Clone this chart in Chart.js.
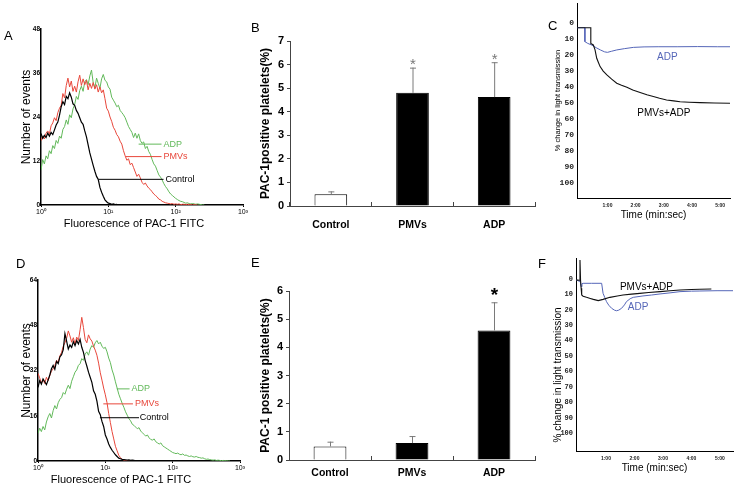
<!DOCTYPE html>
<html><head><meta charset="utf-8">
<script src="https://cdn.jsdelivr.net/npm/chart.js@4/dist/chart.umd.min.js"></script>
<style>
html,body{margin:0;padding:0;background:#fff;}
#wrap{position:relative;width:741px;height:492px;overflow:hidden;background:#fff;font-family:Arial,"Liberation Sans",sans-serif;}
canvas{position:absolute;}
.lt{position:absolute;font-size:13px;line-height:13px;color:#000;}
</style></head><body>
<div id="wrap">
<canvas id="cA" width="250" height="240" style="left:0;top:0"></canvas>
<canvas id="cB" width="290" height="240" style="left:250px;top:0"></canvas>
<canvas id="cC" width="201" height="240" style="left:540px;top:0"></canvas>
<canvas id="cD" width="250" height="252" style="left:0;top:240px"></canvas>
<canvas id="cE" width="290" height="252" style="left:250px;top:240px"></canvas>
<canvas id="cF" width="201" height="252" style="left:540px;top:240px"></canvas>
<div class="lt" style="left:4px;top:29px">A</div>
<div class="lt" style="left:251px;top:21px">B</div>
<div class="lt" style="left:548px;top:19px">C</div>
<div class="lt" style="left:16px;top:257px">D</div>
<div class="lt" style="left:251px;top:256px">E</div>
<div class="lt" style="left:538px;top:257px">F</div>
</div>
<script>
// ---------- data ----------
const decades = [0,0.025,0.05,0.075,0.1,0.125,0.15,0.175,0.2,0.225,0.25,0.275,0.3,0.325,0.35,0.375,0.4,0.425,0.45,0.475,0.5,0.525,0.55,0.575,0.6,0.625,0.65,0.675,0.7,0.725,0.75,0.775,0.8,0.825,0.85,0.875,0.9,0.925,0.95,0.975,1,1.025,1.05,1.075,1.1,1.125,1.15,1.175,1.2,1.225,1.25,1.275,1.3,1.325,1.35,1.375,1.4,1.425,1.45,1.475,1.5,1.525,1.55,1.575,1.6,1.625,1.65,1.675,1.7,1.725,1.75,1.775,1.8,1.825,1.85,1.875,1.9,1.925,1.95,1.975,2,2.025,2.05,2.075,2.1,2.125,2.15,2.175,2.2,2.225,2.25,2.275,2.3,2.325,2.35,2.375,2.4,2.425,2.45,2.475,2.5,2.525,2.55,2.575,2.6,2.625,2.65,2.675,2.7,2.725,2.75,2.775,2.8,2.825,2.85,2.875,2.9,2.925,2.95,2.975,3];
const decadeTicks = [0,1,2,3];
const decadeLabels = ['10\u2070','10\u00B9','10\u00B2','10\u00B3'];

const histA_control = [19.5,18.2,19.0,18.4,19.6,18.8,19.8,19.2,20.5,21.8,22.6,24.5,26.8,28.2,27.4,29.6,29.0,30.6,29.4,27.6,27.2,25.8,25.0,23.8,22.6,22.0,20.2,18.6,16.4,14.2,12.5,10.8,9.2,7.8,7.0,4.8,3.5,2.4,1.4,0.9,0.5,0.4,0.2,0.3,0.1,0.2,0,0.1,0,0];
const histA_pmvs = [17.5,18.8,18.0,19.6,20.2,19.4,21.6,22.4,23.8,23.0,25.2,26.4,27.2,30.4,29.2,32.6,34.6,32.2,33.8,31.0,32.4,30.8,33.6,35.4,32.6,34.4,32.8,34.0,31.4,33.2,31.8,33.4,31.6,32.8,30.8,32.2,30.6,31.4,29.0,26.4,25.6,24.0,22.8,21.2,20.4,19.2,18.6,17.4,16.6,14.8,13.4,12.2,12.6,11.0,11.4,10.2,9.0,7.8,8.4,7.4,6.2,5.6,6.0,5.2,4.6,4.2,3.6,3.0,2.6,2.2,1.6,1.4,1.0,0.8,0.6,0.5,0.4,0.3,0.4,0.2,0.3,0.2,0.3,0.1,0.2,0.2,0.1,0.2,0.1,0.1,0,0.1,0,0];
const histA_adp = [9.5,12.4,11.2,13.4,12.6,14.8,14.0,16.2,15.4,17.6,16.8,18.8,18.2,20.6,21.4,23.2,22.0,24.6,23.8,26.2,27.4,29.6,28.8,31.2,32.4,31.0,33.6,34.2,32.8,35.2,36.8,33.4,32.0,34.6,33.2,31.8,34.4,35.6,34.0,33.6,32.2,31.6,29.4,28.6,27.8,26.8,27.2,25.8,25.2,24.6,23.8,22.6,21.4,20.6,19.8,18.4,19.6,18.2,19.4,17.6,16.8,17.2,15.4,16.0,14.6,13.8,12.4,11.2,10.6,9.4,8.2,7.6,6.8,5.8,5.0,4.4,3.6,3.0,2.6,2.2,1.8,1.5,1.2,1.0,0.9,0.7,0.5,0.6,0.4,0.3,0.4,0.3,0.2,0.3,0.2,0.1,0,0];

const histD_control = [26.0,28.4,27.2,29.0,28.0,27.0,28.6,30.4,32.6,33.8,32.4,35.2,34.4,36.8,37.6,39.4,45.0,42.4,39.6,41.0,40.2,42.2,40.8,42.6,41.4,43.0,40.2,38.4,35.6,33.6,31.4,29.6,27.8,24.8,23.6,21.2,17.6,16.4,14.0,12.2,9.2,7.8,6.0,4.8,3.8,3.0,2.2,1.6,1.0,0.8,0.6,0.5,0.4,0.3,0.4,0.2,0.3,0.2,0.1,0,0.1,0,0];
const histD_pmvs = [31.0,29.4,27.6,28.8,27.4,29.6,28.4,30.2,31.8,32.6,33.8,35.6,35.0,37.2,38.4,40.6,41.8,43.4,46.0,44.2,42.0,43.6,41.4,43.8,42.6,46.4,50.8,47.2,43.0,41.8,44.6,43.2,42.4,40.6,39.2,37.4,34.6,31.2,28.6,25.8,23.4,20.6,16.8,13.6,10.4,7.8,5.2,3.6,2.0,1.2,0.6,0.3,0.2,0.1,0,0];
const histD_adp = [9.8,11.6,10.4,12.2,11.0,13.8,15.6,16.8,15.2,17.8,19.6,18.4,20.6,21.8,22.4,24.2,23.6,25.4,26.8,25.6,28.2,29.8,31.4,32.2,33.8,34.4,36.2,35.6,37.8,38.6,37.4,39.6,40.8,40.2,41.8,42.6,41.4,42.0,40.6,39.8,40.2,38.6,36.4,34.8,32.2,30.4,28.0,25.8,23.6,22.0,20.4,19.0,17.4,16.2,15.0,14.2,13.0,12.6,12.0,11.4,11.8,10.6,10.0,9.4,8.8,9.2,8.2,7.6,7.4,7.8,6.8,6.4,6.0,6.4,5.4,5.0,4.6,4.2,3.8,3.4,3.0,2.8,2.6,2.8,2.4,2.2,2.5,2.0,2.1,1.8,1.6,1.8,1.5,1.4,1.6,1.3,1.2,1.0,1.1,0.8,0.6,0.7,0.5,0.4,0.3,0.4,0.2,0.3,0.2,0.1,0.2,0.1,0.1,0,0];

const barCats = ['Control','PMVs','ADP'];
const barB_values = [0.5, 4.8, 4.62];
const barB_errors = [0.12, 1.07, 1.48];
const barB_stars = [false, true, true];
const barE_values = [0.48, 0.6, 4.6];
const barE_errors = [0.17, 0.25, 1.0];
const barE_stars = [false, false, true];

const aggTicks = [0,10,20,30,40,50,60,70,80,90,100];
const timeTicks = [1,2,3,4,5];
const timeLabels = ['1:00','2:00','3:00','4:00','5:00'];

const aggC_adp_t = [-0.08,0.2,0.2,0.3,0.45,0.6,0.75,0.9,1.0,1.15,1.33,1.6,1.92,2.3,2.8,3.5,4.2,4.9,5.35];
const aggC_adp_v = [2.9,2.9,11.6,12.7,13.8,15.4,16.8,18.0,18.3,17.6,16.8,16.0,15.2,14.9,14.8,14.8,14.7,14.8,14.8];
const aggC_pmv_t = [-0.08,0.41,0.41,0.5,0.56,0.62,0.68,0.74,0.85,0.98,1.15,1.33,1.5,1.69,1.9,2.16,2.4,2.63,2.85,3.1,3.35,3.58,3.9,4.29,4.8,5.35];
const aggC_pmv_v = [2.9,2.9,12.7,13.7,16.8,22.0,24.6,27.2,30.0,32.4,35.0,37.6,38.9,40.1,41.8,43.4,44.8,45.9,47.0,48.0,48.6,49.1,49.4,49.7,49.9,50.1];

const aggF_pmv_t = [-0.05,0.06,0.09,0.11,0.13,0.15,0.2,0.32,0.45,0.56,0.73,0.9,1.14,1.4,1.6,1.9,2.19,2.5,2.9,3.25,3.6,4.0,4.3,4.7];
const aggF_pmv_v = [0.6,0.8,-12.3,1.0,6.0,10.4,11.2,11.9,12.6,13.2,14.0,13.2,11.9,11.0,10.4,9.8,9.3,8.8,8.2,7.6,7.1,6.8,6.7,6.5];
const aggF_adp_t = [-0.05,0.1,0.13,0.16,0.2,0.5,0.85,0.9,0.96,1.02,1.1,1.2,1.3,1.37,1.45,1.55,1.65,1.72,1.85,1.96,2.3,2.6,2.9,3.25,3.6,4.0,4.3,4.9,5.47];
const aggF_adp_v = [0.6,1.7,5.0,3.0,2.8,2.8,2.8,9.3,12.0,14.7,17.0,19.0,20.2,20.6,20.2,19.0,16.8,14.7,12.8,11.9,11.0,10.4,9.7,9.0,8.2,7.9,7.8,7.6,7.6];

// ---------- helpers ----------
Chart.defaults.font.family = 'Arial, "Liberation Sans", sans-serif';
Chart.defaults.color = '#000';
const GREEN = '#62b95a', RED = '#e8473b', BLUE = '#5566b8';

function histPts(ys){ return ys.map((v,i)=>({x:decades[i], y:v})); }
function tPts(ts, vs){ return ts.map((t,i)=>({x:t, y:vs[i]})); }
function zeroPad(s){ s.paddingTop=0; s.paddingBottom=0; s.paddingLeft=0; s.paddingRight=0; }

function leaderPlugin(items){
  return { id:'leaders', afterDatasetsDraw(chart){
    const {ctx, scales:{x,y}} = chart;
    ctx.save();
    items.forEach(it=>{
      const yy = y.getPixelForValue(it.y);
      if (it.x0 !== undefined){
        ctx.strokeStyle = it.color; ctx.lineWidth = 1;
        ctx.beginPath(); ctx.moveTo(x.getPixelForValue(it.x0), yy); ctx.lineTo(x.getPixelForValue(it.x1), yy); ctx.stroke();
      }
      ctx.fillStyle = it.color; ctx.font = it.font; ctx.textAlign='left'; ctx.textBaseline='middle';
      ctx.fillText(it.text, x.getPixelForValue(it.tx), yy);
    });
    ctx.restore();
  }};
}

function titlesPlugin(list){
  return { id:'freeTitles', afterDraw(chart){
    const ctx = chart.ctx;
    (list||[]).forEach(t=>{
      ctx.save();
      ctx.translate(t.x, t.y); if (t.rot) ctx.rotate(-Math.PI/2);
      ctx.fillStyle = '#000'; ctx.font = t.font; ctx.textAlign='center'; ctx.textBaseline='middle';
      ctx.fillText(t.text, 0, 0);
      ctx.restore();
    });
  }};
}

function errPlugin(vals, errs, stars, st){
  return { id:'errbars', afterDatasetsDraw(chart){
    const {ctx, scales:{x,y}} = chart;
    ctx.save();
    vals.forEach((v,i)=>{
      const px = x.getPixelForValue(i);
      const y0 = y.getPixelForValue(v), y1 = y.getPixelForValue(v+errs[i]);
      ctx.strokeStyle = '#7a7a7a'; ctx.lineWidth = 1;
      ctx.beginPath(); ctx.moveTo(px+0.5, y0); ctx.lineTo(px+0.5, y1);
      ctx.moveTo(px-2.5, y1+0.5); ctx.lineTo(px+3.5, y1+0.5); ctx.stroke();
      if (stars[i]){
        ctx.fillStyle = st.color; ctx.font = st.font; ctx.textAlign='center'; ctx.textBaseline='alphabetic';
        ctx.fillText('*', px+0.5, y1 - st.gap + st.size*0.56);
      }
    });
    ctx.restore();
  }};
}

function histChart(id, W, H, area, ymax, ystep, series, leaders, titlePadY, xTitle){
  const yTicks = []; for (let v=0; v<=ymax; v+=ystep) yTicks.push(v);
  return new Chart(document.getElementById(id), {
    type:'line',
    data:{ datasets:[
      {data:histPts(series[0]), borderColor:'#000', borderWidth:1.2},
      {data:histPts(series[1]), borderColor:RED, borderWidth:1},
      {data:histPts(series[2]), borderColor:GREEN, borderWidth:1}
    ]},
    options:{
      responsive:false, animation:false, events:[],
      layout:{padding:{left:0, top:area.top, right:W-area.right, bottom:0}},
      plugins:{legend:{display:false}, tooltip:{enabled:false}},
      elements:{point:{radius:0}, line:{tension:0}},
      scales:{
        x:{type:'linear', min:0, max:3,
          afterBuildTicks:s=>{ s.ticks = decadeTicks.map(v=>({value:v})); },
          afterFit:s=>{ s.height = H-area.bottom; zeroPad(s); },
          ticks:{callback:(v,i)=>decadeLabels[i], font:{size:7}, color:'#000', padding:1, maxRotation:0, autoSkip:false},
          grid:{drawOnChartArea:false, tickLength:2, color:'#000'},
          border:{color:'#000', width:1.5}
        },
        y:{min:0, max:ymax,
          afterBuildTicks:s=>{ s.ticks = yTicks.map(v=>({value:v})); },
          afterFit:s=>{ s.width = area.left; zeroPad(s); },
          ticks:{font:{size:6.5, weight:'bold'}, color:'#000', padding:0},
          grid:{drawOnChartArea:false, tickLength:1, color:'#000'},
          border:{color:'#000', width:1.5},
          title:{display:true, text:'Number of events', font:{size:12}, color:'#000', padding:{top:titlePadY,bottom:0}}
        }
      }
    },
    plugins:[leaderPlugin(leaders), titlesPlugin([xTitle])]
  });
}

function barChart(id, W, H, area, ymax, vals, errs, stars, starStyle, yTitle, labPad){
  const yTicks = []; for (let v=0; v<=ymax; v++) yTicks.push(v);
  return new Chart(document.getElementById(id), {
    type:'bar',
    data:{ labels:barCats, datasets:[{data:vals, backgroundColor:['#fff','#000','#000'], borderColor:'#000', borderWidth:1, borderSkipped:'bottom', barPercentage:0.8, categoryPercentage:0.5}]},
    options:{
      responsive:false, animation:false, events:[],
      layout:{padding:{left:0, top:area.top, right:W-area.right, bottom:0}},
      plugins:{legend:{display:false}, tooltip:{enabled:false}},
      scales:{
        x:{offset:true,
          afterFit:s=>{ s.height = H-area.bottom; zeroPad(s); },
          ticks:{font:{size:10.5, weight:'bold'}, color:'#000', padding:labPad, maxRotation:0},
          grid:{offset:true, drawOnChartArea:false, tickLength:-4, color:'#444'},
          border:{color:'#444', width:1}
        },
        y:{min:0, max:ymax,
          afterBuildTicks:s=>{ s.ticks = yTicks.map(v=>({value:v})); },
          afterFit:s=>{ s.width = area.left; zeroPad(s); },
          ticks:{font:{size:11, weight:'bold'}, color:'#000', padding:3},
          grid:{drawOnChartArea:false, tickLength:3, color:'#444'},
          border:{color:'#444', width:1},
          title:{display:true, text:yTitle, font:{size:12, weight:'bold'}, color:'#000', padding:{top:8,bottom:0}}
        }
      }
    },
    plugins:[errPlugin(vals, errs, stars, starStyle)]
  });
}

function aggChart(id, W, H, area, xr, yr, series, labels, yTitleOpts, xTitlePad, freeTitles, yTickSize){
  return new Chart(document.getElementById(id), {
    type:'line',
    data:{ datasets:[
      {data:series[0], borderColor:'#111', borderWidth:1.1},
      {data:series[1], borderColor:BLUE, borderWidth:1}
    ]},
    options:{
      responsive:false, animation:false, events:[],
      layout:{padding:{left:0, top:area.top, right:W-area.right, bottom:0}},
      plugins:{legend:{display:false}, tooltip:{enabled:false}},
      elements:{point:{radius:0}, line:{tension:0}},
      scales:{
        x:{type:'linear', min:xr[0], max:xr[1],
          afterBuildTicks:s=>{ s.ticks = timeTicks.map(v=>({value:v})); },
          afterFit:s=>{ s.height = H-area.bottom; zeroPad(s); },
          ticks:{callback:(v,i)=>timeLabels[i], font:{size:5, weight:'bold'}, color:'#222', padding:4, maxRotation:0, autoSkip:false},
          grid:{drawOnChartArea:false, tickLength:1, color:'#000'},
          border:{color:'#000', width:1},
          title:{display:true, text:'Time (min:sec)', font:{size:10}, color:'#000', padding:{top:0,bottom:xTitlePad}}
        },
        y:{type:'linear', reverse:true, min:yr[0], max:yr[1],
          afterBuildTicks:s=>{ s.ticks = aggTicks.map(v=>({value:v})); },
          afterFit:s=>{ s.width = area.left; zeroPad(s); },
          ticks:{font:{size:yTickSize, weight:'bold', family:'"Liberation Mono", monospace'}, color:'#222', padding:3},
          grid:{drawOnChartArea:false, tickLength:0, color:'#000'},
          border:{color:'#000', width:1},
          title:Object.assign({display:true, text:'% change in light transmission', color:'#000'}, yTitleOpts)
        }
      }
    },
    plugins:[leaderPlugin(labels), titlesPlugin(freeTitles)]
  });
}

// ---------- panels ----------
histChart('cA', 250, 240, {left:41, right:243, top:29, bottom:205}, 48, 12,
  [histA_control, histA_pmvs, histA_adp],
  [{text:'ADP', tx:1.82, y:16.6, x0:1.45, x1:1.79, color:GREEN, font:'9px Arial'},
   {text:'PMVs', tx:1.82, y:13.2, x0:1.26, x1:1.79, color:RED, font:'9px Arial'},
   {text:'Control', tx:1.85, y:7.0, x0:0.86, x1:1.82, color:'#000', font:'9px Arial'}], 19,
  {text:'Fluorescence of PAC-1 FITC', x:134, y:224, font:'11px Arial'});

histChart('cD', 250, 252, {left:38, right:240, top:40, bottom:221}, 64, 16,
  [histD_control, histD_pmvs, histD_adp],
  [{text:'ADP', tx:1.39, y:25.5, x0:1.17, x1:1.36, color:GREEN, font:'9px Arial'},
   {text:'PMVs', tx:1.44, y:20.2, x0:0.97, x1:1.41, color:RED, font:'9px Arial'},
   {text:'Control', tx:1.51, y:15.3, x0:0.92, x1:1.5, color:'#000', font:'9px Arial'}], 19,
  {text:'Fluorescence of PAC-1 FITC', x:121, y:240, font:'11px Arial'});

barChart('cB', 290, 240, {left:40, right:285, top:41, bottom:206}, 7,
  barB_values, barB_errors, barB_stars, {color:'#777', font:'15px Arial', size:15, gap:7},
  'PAC-1positive platelets(%)', 17);

barChart('cE', 290, 252, {left:39, right:285, top:51, bottom:220}, 6,
  barE_values, barE_errors, barE_stars, {color:'#000', font:'bold 19px Arial', size:19, gap:12},
  'PAC-1 positive platelets(%)', 11);

aggChart('cC', 201, 240, {left:37, right:190, top:3, bottom:198}, [-0.08, 5.35], [-12.5, 109.2],
  [tPts(aggC_pmv_t, aggC_pmv_v), tPts(aggC_adp_t, aggC_adp_v)],
  [{text:'ADP', tx:2.76, y:21.2, color:BLUE, font:'10px Arial'},
   {text:'PMVs+ADP', tx:2.06, y:56.1, color:'#000', font:'10px Arial'}],
  {font:{size:7.5}, padding:{top:13,bottom:0}}, 19, [], 8);

aggChart('cF', 201, 252, {left:36, right:193, top:18, bottom:211}, [-0.05, 5.46], [-13.6, 111.5],
  [tPts(aggF_pmv_t, aggF_pmv_v), tPts(aggF_adp_t, aggF_adp_v)],
  [{text:'PMVs+ADP', tx:1.49, y:5.3, color:'#000', font:'10px Arial'},
   {text:'ADP', tx:1.77, y:18.2, color:BLUE, font:'10px Arial'}],
  {display:false}, 18,
  [{text:'% change in light transmission', x:18, y:135, font:'10px Arial', rot:true}], 7);
</script>
</body></html>
